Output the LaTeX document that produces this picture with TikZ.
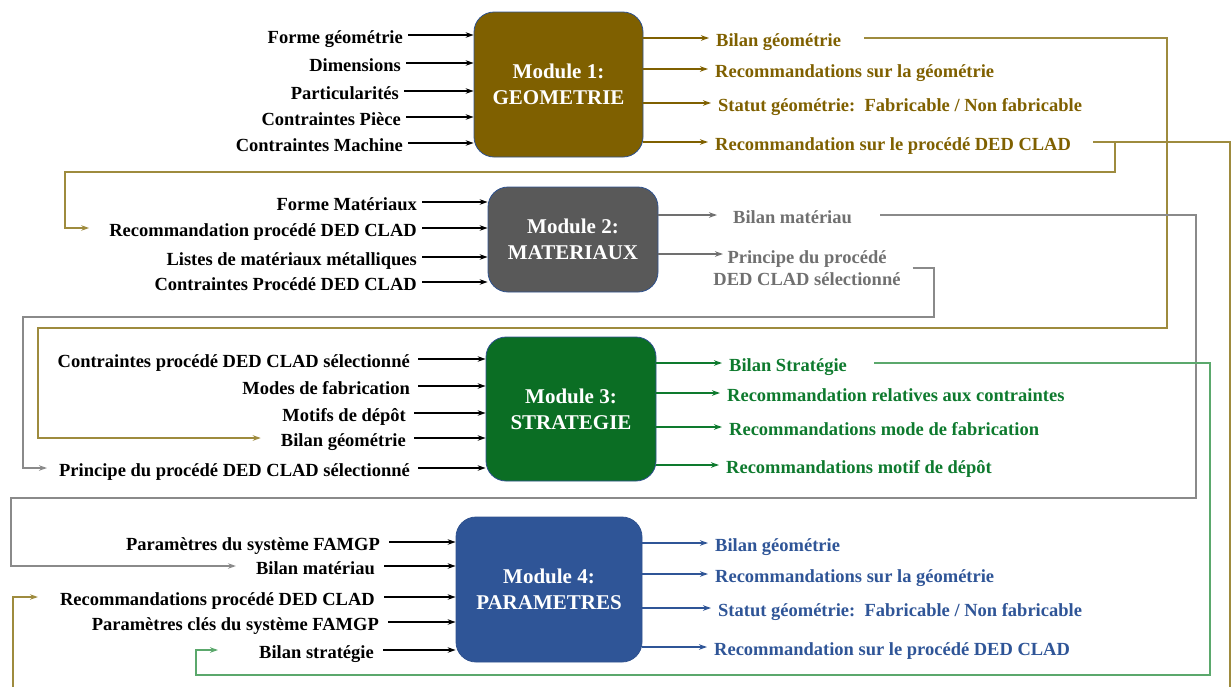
\documentclass[tikz,border=0pt]{standalone}
\usepackage{fontspec}
\setmainfont{Liberation Serif}
\usetikzlibrary{arrows.meta}
\definecolor{mOne}{HTML}{7F6000}
\definecolor{mTwo}{HTML}{595959}
\definecolor{mThree}{HTML}{0B6E24}
\definecolor{mFour}{HTML}{2F5597}
\definecolor{goldtxt}{HTML}{7F6000}
\definecolor{goldln}{HTML}{9E8B3E}
\definecolor{graytxt}{HTML}{707070}
\definecolor{grayln}{HTML}{8A8A8A}
\definecolor{greentxt}{HTML}{0E7A2E}
\definecolor{greenln}{HTML}{5BA86C}
\definecolor{bluetxt}{HTML}{2F5597}
\definecolor{bordercol}{HTML}{2F528F}
\begin{document}
\begin{tikzpicture}[x=1pt,y=-1pt,
  txt/.style={font=\bfseries\fontsize{18.5}{22}\selectfont, text height=19pt, text depth=3pt, inner ysep=0pt},
  inp/.style={txt, anchor=east, inner xsep=5pt, text=black},
  outp/.style={txt, anchor=west, inner xsep=7pt},
  modbox/.style={draw=bordercol, line width=0.8pt, rounded corners=20pt, text=white, align=center,
    font=\bfseries\fontsize{21}{26}\selectfont},
  arr/.style={line width=1.3pt, -{Stealth[length=8pt,width=5.5pt]}},
  link/.style={line width=1.3pt, -{Stealth[length=8pt,width=5.5pt]}}
]
\useasboundingbox (0,0) rectangle (1231,686);
\clip (0,0) rectangle (1231,686);

% modules
\node[modbox, fill=mOne, minimum width=169pt, minimum height=145pt] (m1) at (558.5,84.5) {Module 1:\\GEOMETRIE};
\node[modbox, fill=mTwo, minimum width=170pt, minimum height=105pt] (m2) at (573,239.5) {Module 2:\\MATERIAUX};
\node[modbox, fill=mThree, minimum width=170pt, minimum height=144pt] (m3) at (571,409) {Module 3:\\STRATEGIE};
\node[modbox, fill=mFour, minimum width=186pt, minimum height=145pt] (m4) at (549,589.5) {Module 4:\\PARAMETRES};

% module 1 inputs
\node[inp] (a1) at (408,35) {Forme géométrie};
\node[inp] (a2) at (406,63) {Dimensions};
\node[inp] (a3) at (404,91) {Particularités};
\node[inp] (a4) at (406,117) {Contraintes Pièce};
\node[inp] (a5) at (408,143) {Contraintes Machine};
\foreach \n in {a1,a2,a3,a4,a5} \draw[arr] (\n.east) -- (m1.west |- \n.east);

% module 1 outputs
\begin{scope}[every node/.style={outp, text=goldtxt}]
\node (b1) at (709,38) {Bilan géométrie};
\node (b2) at (708,69) {Recommandations sur la géométrie};
\node (b3) at (711,103) {Statut géométrie:\ \ Fabricable / Non fabricable};
\node (b4) at (708,142) {Recommandation sur le procédé DED CLAD};
\end{scope}
\foreach \n in {b1,b2,b3,b4} \draw[arr, goldtxt] (m1.east |- \n.west) -- (\n.west);

% module 2 inputs
\node[inp] (e1) at (422,202) {Forme Matériaux};
\node[inp] (e2) at (422,228) {Recommandation procédé DED CLAD};
\node[inp] (e3) at (422,257) {Listes de matériaux métalliques};
\node[inp] (e4) at (422,282) {Contraintes Procédé DED CLAD};
\foreach \n in {e1,e2,e3,e4} \draw[arr] (\n.east) -- (m2.west |- \n.east);

% module 2 outputs
\node[outp, text=graytxt] (f1) at (726,215) {Bilan matériau};
\node[font=\bfseries\fontsize{18.5}{22}\selectfont, inner xsep=7pt, inner ysep=0pt, text=graytxt, align=center] (f2) at (807,268) {Principe du procédé\\DED CLAD sélectionné};
\coordinate (f2in) at (723,254);
\draw[arr, graytxt] (m2.east |- f1.west) -- ([xshift=-9pt]f1.west);
\draw[arr, graytxt] (m2.east |- f2in) -- (f2in);

% module 3 inputs
\node[inp] (c1) at (415,359) {Contraintes procédé DED CLAD sélectionné};
\node[inp] (c2) at (415,386) {Modes de fabrication};
\node[inp] (c3) at (411,413) {Motifs de dépôt};
\node[inp] (c4) at (411,438) {Bilan géométrie};
\node[inp] (c5) at (415,468) {Principe du procédé DED CLAD sélectionné};
\foreach \n in {c1,c2,c3,c4,c5} \draw[arr] ([xshift=3pt]\n.east) -- (m3.west |- \n.east);

% module 3 outputs
\begin{scope}[every node/.style={outp, text=greentxt}]
\node (s1) at (722,363) {Bilan Stratégie};
\node (s2) at (720,393) {Recommandation relatives aux contraintes};
\node (s3) at (722,427) {Recommandations mode de fabrication};
\node (s4) at (719,465) {Recommandations motif de dépôt};
\end{scope}
\foreach \n in {s1,s2,s3,s4} \draw[arr, greentxt] (m3.east |- \n.west) -- (\n.west);

% module 4 inputs
\node[inp] (h1) at (385,542) {Paramètres du système FAMGP};
\node[inp] (h2) at (380,566) {Bilan matériau};
\node[inp] (h3) at (380,597) {Recommandations procédé DED CLAD};
\node[inp] (h4) at (384,622) {Paramètres clés du système FAMGP};
\node[inp] (h5) at (379,650) {Bilan stratégie};
\foreach \n in {h1,h2,h3,h4,h5} \draw[arr] ([xshift=4pt]\n.east) -- (m4.west |- \n.east);

% module 4 outputs
\begin{scope}[every node/.style={outp, text=bluetxt}]
\node (t1) at (708,543) {Bilan géométrie};
\node (t2) at (708,574) {Recommandations sur la géométrie};
\node (t3) at (711,608) {Statut géométrie:\ \ Fabricable / Non fabricable};
\node (t4) at (707,647) {Recommandation sur le procédé DED CLAD};
\end{scope}
\foreach \n in {t1,t2,t3,t4} \draw[arr, bluetxt] (m4.east |- \n.west) -- (\n.west);

% routing connectors
\draw[link, goldln] ([xshift=16pt]b1.east) -| (1167,328) -- (38,328) |- ([xshift=-15pt]c4.west);
\draw[link, goldln] ([xshift=15pt]b4.east) -| (1230,692) -- (13,692) |- ([xshift=-17pt]h3.west);
\draw[link, goldln] (1115,0 |- b4.east) |- (65,172) |- ([xshift=-15pt]e2.west);
\draw[link, grayln] ([xshift=21pt]f1.east) -| (1196,498) -- (11,498) |- ([xshift=-15pt]h2.west);
\draw[link, grayln] ([xshift=5pt]f2.east) -| (934,317) -- (23,317) |- ([xshift=-7pt]c5.west);
\draw[link, greenln] ([xshift=20pt]s1.east) -| (1210,675) -- (196,675) |- ([xshift=-36pt]h5.west);
\end{tikzpicture}
\end{document}
